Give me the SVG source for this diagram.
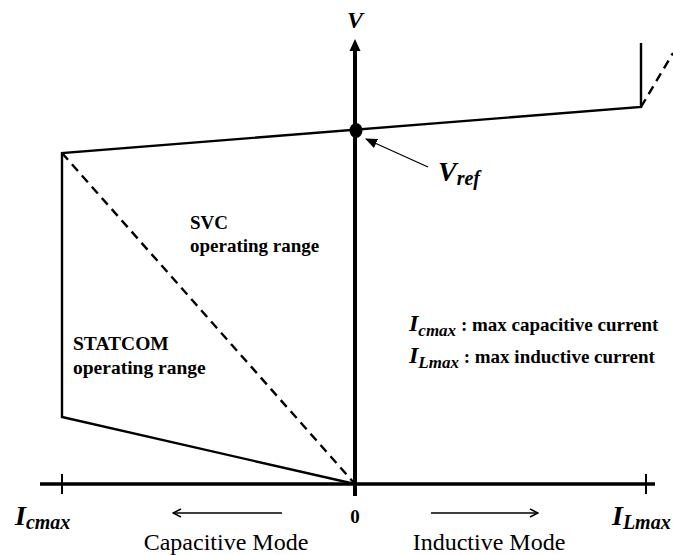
<svg xmlns="http://www.w3.org/2000/svg" width="673" height="555" viewBox="0 0 673 555">
  <style>
    .bg { fill: #ffffff; }
    .ln { stroke: #000; fill: none; stroke-linecap: butt; }
    .dash { stroke: #000; fill: none; stroke-dasharray: 9 6; stroke-width: 2.4; }
    .lbl { font-family: "Liberation Serif", "Times New Roman", serif; fill: #000; }
    .bi { font-weight: bold; font-style: italic; }
    .b { font-weight: bold; }
  </style>
  <defs>
    <marker id="openHead" viewBox="0 0 10 10" refX="9" refY="5" markerWidth="10" markerHeight="10" markerUnits="userSpaceOnUse" orient="auto">
      <path d="M1,1 L9,5 L1,9" fill="none" stroke="#000" stroke-width="1.4"/>
    </marker>
    <marker id="thinHead" viewBox="0 0 12 10" refX="11" refY="5" markerWidth="12" markerHeight="10" markerUnits="userSpaceOnUse" orient="auto">
      <path d="M0,0 L12,5 L0,10 Z" fill="#000"/>
    </marker>
  </defs>
  <rect class="bg" x="0" y="0" width="673" height="555"/>

  <!-- axes -->
  <g id="axes">
    <line class="ln" x1="40" y1="484" x2="655" y2="484" stroke-width="3.5"/>
    <line class="ln" x1="355" y1="496" x2="355" y2="48" stroke-width="4"/>
    <polygon points="355,39 360.5,51 349.5,51" fill="#000"/>
    <line class="ln" x1="62" y1="474" x2="62" y2="494" stroke-width="2"/>
    <line class="ln" x1="646" y1="474" x2="646" y2="494" stroke-width="2"/>
  </g>

  <!-- characteristic curves -->
  <g id="connectors">
    <polyline class="ln" points="641,43 641,107 62,153 62,417 355,484" stroke-width="2.4" stroke-linejoin="miter"/>
    <line class="dash" x1="62" y1="153" x2="355" y2="484"/>
    <line class="dash" x1="641" y1="107" x2="673" y2="53"/>
    <line class="ln" x1="428" y1="167" x2="366" y2="139" stroke-width="1.3" marker-end="url(#thinHead)"/>
    <line class="ln" x1="282" y1="513" x2="173" y2="513" stroke-width="1.4" marker-end="url(#openHead)"/>
    <line class="ln" x1="431" y1="513" x2="538" y2="513" stroke-width="1.4" marker-end="url(#openHead)"/>
  </g>

  <!-- operating point -->
  <g id="vref-point">
    <ellipse cx="356" cy="130.5" rx="6.5" ry="7.5" fill="#000"/>
  </g>

  <g id="v-label">
    <text class="lbl bi" x="355" y="28" font-size="24" text-anchor="middle">V</text>
  </g>

  <g id="vref-label">
    <text class="lbl bi" x="438" y="181" font-size="28">V<tspan font-size="20" dy="4">ref</tspan></text>
  </g>

  <g id="svc-range">
    <text class="lbl b" x="190" y="229" font-size="19">SVC</text>
    <text class="lbl b" x="190" y="252" font-size="19">operating range</text>
  </g>

  <g id="statcom-range">
    <text class="lbl b" x="73" y="350" font-size="19.5">STATCOM</text>
    <text class="lbl b" x="73" y="374" font-size="19.5">operating range</text>
  </g>

  <g id="legend">
    <text class="lbl b" x="409" y="331" font-size="19"><tspan class="bi" font-size="24">I</tspan><tspan class="bi" font-size="17" dy="5">cmax</tspan><tspan dy="-5"> : max capacitive current</tspan></text>
    <text class="lbl b" x="409" y="363" font-size="19"><tspan class="bi" font-size="24">I</tspan><tspan class="bi" font-size="17" dy="5">Lmax</tspan><tspan dy="-5"> : max inductive current</tspan></text>
  </g>

  <g id="x-labels">
    <text class="lbl bi" x="15" y="525" font-size="28">I<tspan font-size="20" dy="4">cmax</tspan></text>
    <text class="lbl b" x="355" y="523" font-size="19" text-anchor="middle">0</text>
    <text class="lbl bi" x="612" y="525" font-size="28">I<tspan font-size="20" dy="4">Lmax</tspan></text>
    <text class="lbl" x="226" y="550" font-size="24" text-anchor="middle">Capacitive Mode</text>
    <text class="lbl" x="489" y="550" font-size="24" text-anchor="middle">Inductive Mode</text>
  </g>
</svg>
